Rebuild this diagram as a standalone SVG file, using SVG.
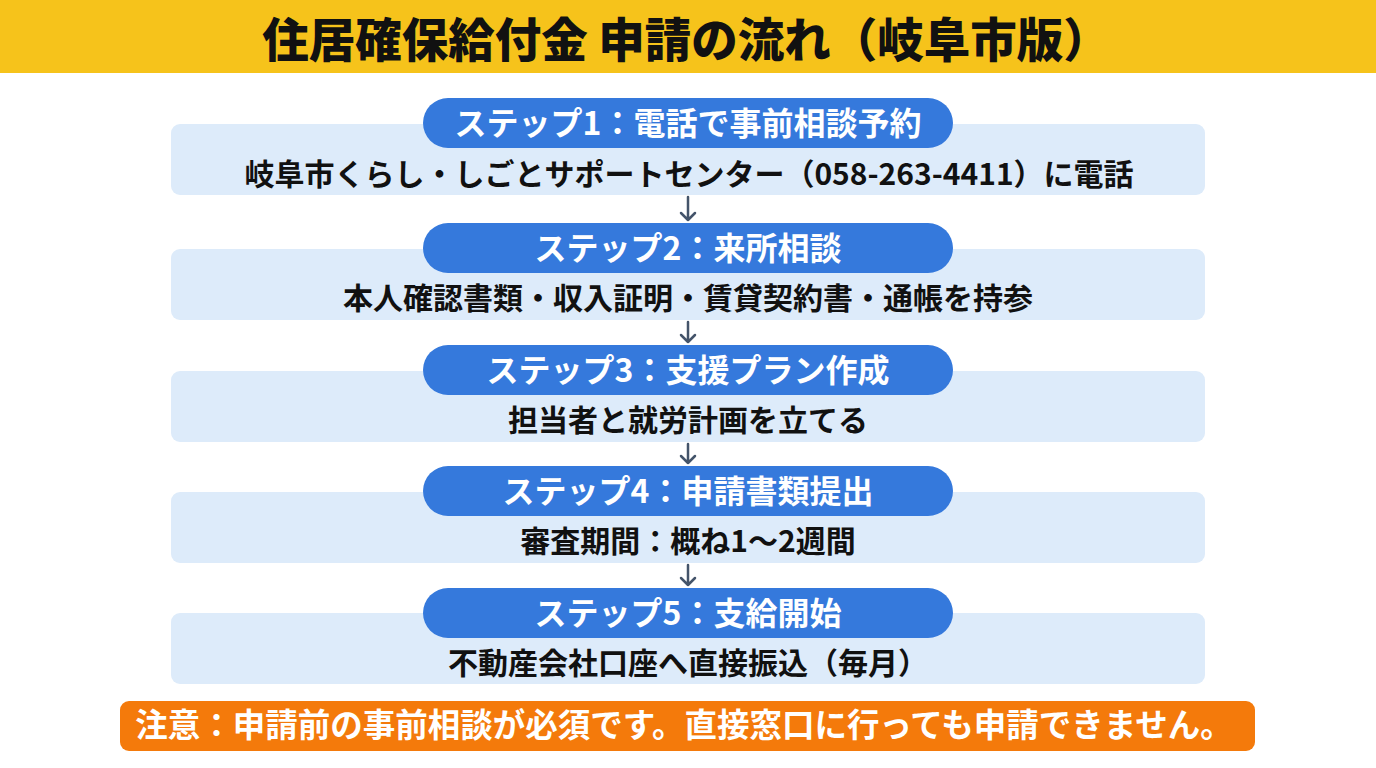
<svg xmlns="http://www.w3.org/2000/svg" width="1376" height="768" viewBox="0 0 1376 768">
<style>
.box{fill:#DDEBFA}
.pill{fill:#3579DC}
.pt{font-family:"Noto Sans CJK JP","Noto Sans",sans-serif;font-weight:700;font-size:32px;fill:#FFFFFF;text-anchor:middle}
.bt{font-family:"Noto Sans CJK JP","Noto Sans",sans-serif;font-weight:700;font-size:30px;fill:#111111;text-anchor:middle}
.arr{stroke:#44546A;stroke-width:2.5;fill:none;stroke-linecap:round;stroke-linejoin:round}
</style>
<rect x="0" y="0" width="1376" height="768" fill="#FFFFFF"/>
<g id="title">
<rect x="0" y="0" width="1376" height="73" fill="#F6C31B"/>
<text x="686" y="57" font-family="'Noto Sans CJK JP','Noto Sans',sans-serif" font-weight="900" font-size="46.5" fill="#111111" text-anchor="middle">住居確保給付金 申請の流れ（岐阜市版）</text>
</g>
<g id="step1">
<rect class="box" x="171" y="124" width="1034" height="71" rx="9"/>
<rect class="pill" x="423" y="98" width="530" height="50" rx="25"/>
<text class="pt" x="688" y="135">ステップ1：電話で事前相談予約</text>
<text class="bt" x="689" y="185">岐阜市くらし・しごとサポートセンター（058-263-4411）に電話</text>
</g>
<g id="step2">
<rect class="box" x="171" y="249" width="1034" height="71" rx="9"/>
<rect class="pill" x="423" y="223" width="530" height="50" rx="25"/>
<text class="pt" x="688" y="260">ステップ2：来所相談</text>
<text class="bt" x="688" y="309">本人確認書類・収入証明・賃貸契約書・通帳を持参</text>
</g>
<g id="step3">
<rect class="box" x="171" y="371" width="1034" height="71" rx="9"/>
<rect class="pill" x="423" y="345" width="530" height="50" rx="25"/>
<text class="pt" x="688" y="382">ステップ3：支援プラン作成</text>
<text class="bt" x="688" y="431">担当者と就労計画を立てる</text>
</g>
<g id="step4">
<rect class="box" x="171" y="492" width="1034" height="71" rx="9"/>
<rect class="pill" x="423" y="466" width="530" height="50" rx="25"/>
<text class="pt" x="688" y="503">ステップ4：申請書類提出</text>
<text class="bt" x="688" y="552">審査期間：概ね1～2週間</text>
</g>
<g id="step5">
<rect class="box" x="171" y="613" width="1034" height="71" rx="9"/>
<rect class="pill" x="423" y="588" width="530" height="50" rx="25"/>
<text class="pt" x="688" y="625">ステップ5：支給開始</text>
<text class="bt" x="688" y="674">不動産会社口座へ直接振込（毎月）</text>
</g>
<g id="connectors">
<path class="arr" d="M688 197 V220 M681 213 L688 220 L695 213"/>
<path class="arr" d="M688 322 V342 M681 335 L688 342 L695 335"/>
<path class="arr" d="M688 444 V463 M681 456 L688 463 L695 456"/>
<path class="arr" d="M688 565 V585 M681 578 L688 585 L695 578"/>
</g>
<g id="note">
<rect x="120" y="701" width="1135" height="50" rx="9" fill="#F47A0B"/>
<text x="684" y="737" font-family="'Noto Sans CJK JP','Noto Sans',sans-serif" font-weight="700" font-size="32.5" fill="#FFFFFF" text-anchor="middle">注意：申請前の事前相談が必須です。直接窓口に行っても申請できません。</text>
</g>
</svg>
